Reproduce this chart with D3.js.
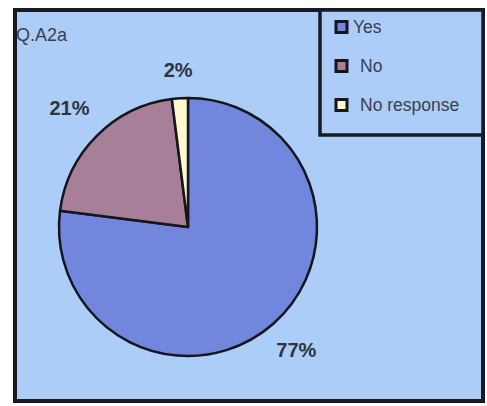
<!DOCTYPE html>
<html><head><meta charset="utf-8">
<script src="https://cdn.jsdelivr.net/npm/d3@7"></script>
<style>body{margin:0;background:#fff}svg{display:block}</style>
</head><body>
<svg id="c" width="487" height="406"></svg>
<script>
const categories = ["Yes", "No", "No response"];
const values = [77, 21, 2];
const labels = ["77%", "21%", "2%"];
const colors = ["#7286de", "#a87f98", "#fdf8cf"];
const title = "Q.A2a";

const svg = d3.select("#c");
svg.append("rect").attr("x", 15).attr("y", 10).attr("width", 468).attr("height", 391)
  .attr("fill", "#abcdf8").attr("stroke", "#1a1a22").attr("stroke-width", 4);

svg.append("text").attr("x", 16).attr("y", 41).text(title)
  .attr("font-family", "Liberation Sans, Arial, sans-serif").attr("font-size", 18).attr("fill", "#3a3f4e");

const cx = 188, cy = 227, r = 129;
const pie = d3.pie().sort(null).value(d => d.v);
const arcs = pie(categories.map((c, i) => ({c, v: values[i], i})));
const arc = d3.arc().innerRadius(0).outerRadius(r);
const g = svg.append("g").attr("transform", `translate(${cx},${cy})`);
g.selectAll("path").data(arcs).join("path")
  .attr("d", arc).attr("fill", d => colors[d.data.i])
  .attr("stroke", "#15151c").attr("stroke-width", 2.5).attr("stroke-linejoin", "round");

const labelR = [1.27, 1.3, 1.22];
g.selectAll("text.lbl").data(arcs).join("text").attr("class", "lbl")
  .attr("transform", d => {
    const a = d3.arc().innerRadius(r * labelR[d.data.i]).outerRadius(r * labelR[d.data.i]);
    const p = a.centroid(d);
    return `translate(${p[0]},${p[1]})`;
  })
  .attr("text-anchor", "middle").attr("dominant-baseline", "central")
  .attr("font-family", "Liberation Sans, Arial, sans-serif").attr("font-weight", "bold")
  .attr("font-size", 20).attr("fill", "#2f3441")
  .text(d => labels[d.data.i]);

// legend
svg.append("rect").attr("x", 320).attr("y", 10).attr("width", 163).attr("height", 125)
  .attr("fill", "#abcdf8").attr("stroke", "#1a1a22").attr("stroke-width", 3.5);
const ly = d3.scalePoint().domain(categories).range([27, 105]);
const lg = svg.append("g");
categories.forEach((c, i) => {
  lg.append("rect").attr("x", 336).attr("y", ly(c) - 5.5).attr("width", 11).attr("height", 11)
    .attr("fill", colors[i]).attr("stroke", "#15151c").attr("stroke-width", 3);
  lg.append("text").attr("x", i === 0 ? 353 : 360).attr("y", ly(c)).attr("dominant-baseline", "central")
    .attr("font-family", "Liberation Sans, Arial, sans-serif").attr("font-size", 17.5).attr("fill", "#3a3f4e")
    .text(c);
});
</script>
</body></html>
